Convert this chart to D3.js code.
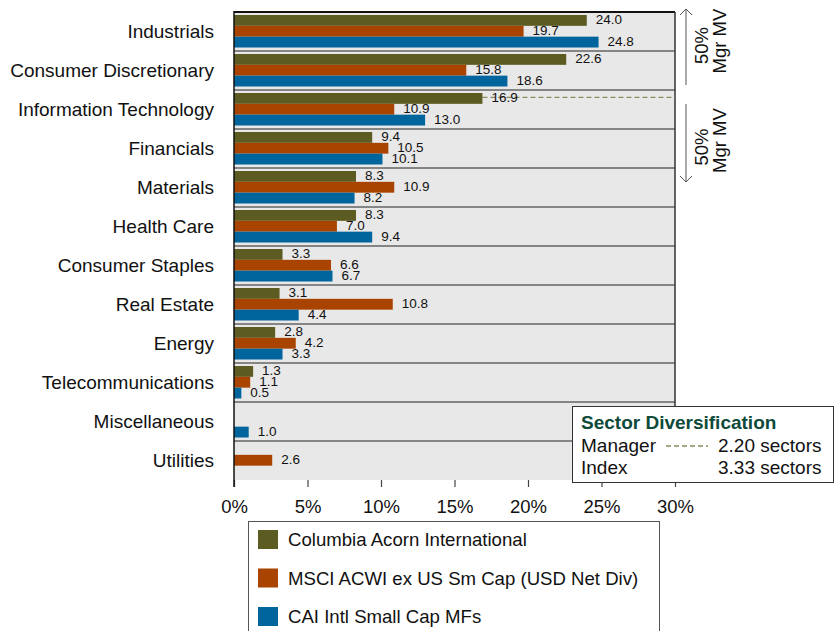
<!DOCTYPE html>
<html><head><meta charset="utf-8">
<script src="https://cdn.jsdelivr.net/npm/d3@7"></script>
<style>body{margin:0;background:#fff;}svg{display:block;font-family:"Liberation Sans",Arial,sans-serif;}</style>
</head><body><svg id="c" width="835" height="631"></svg>
<script>
const categories = ["Industrials","Consumer Discretionary","Information Technology","Financials","Materials","Health Care","Consumer Staples","Real Estate","Energy","Telecommunications","Miscellaneous","Utilities"];
const seriesNames = ["Columbia Acorn International","MSCI ACWI ex US Sm Cap (USD Net Div)","CAI Intl Small Cap MFs"];
const manager = [24.0,22.6,16.9,9.4,8.3,8.3,3.3,3.1,2.8,1.3,null,null];
const index = [19.7,15.8,10.9,10.5,10.9,7.0,6.6,10.8,4.2,1.1,null,2.6];
const peers = [24.8,18.6,13.0,10.1,8.2,9.4,6.7,4.4,3.3,0.5,1.0,null];
const xTicks = [0,5,10,15,20,25,30];
const colors = ["#5c5c22","#a94400","#00659d"];
const managerSectors = "2.20 sectors", indexSectors = "3.33 sectors";
const dashValue = 16.9; // manager cumulative 50% split at IT

const svg = d3.select("#c");
const L=234, R=675, T=12, B=480;
const x = d3.scaleLinear().domain([0,30]).range([L,R]);
const y = d3.scaleBand().domain(categories).range([T,B]);
const inner = d3.scaleBand().domain([0,1,2]).range([3, y.bandwidth()-3.5]).padding(0);

svg.append("rect").attr("x",L).attr("y",T).attr("width",R-L).attr("height",B-T).attr("fill","#e8e8e8");
categories.slice(1).forEach(c=>{
  svg.append("line").attr("x1",L).attr("x2",R).attr("y1",y(c)).attr("y2",y(c)).attr("stroke","#222").attr("stroke-width",1.2);
});
svg.append("line").attr("x1",L).attr("x2",R).attr("y1",T).attr("y2",T).attr("stroke","#111").attr("stroke-width",2);
svg.append("line").attr("x1",R).attr("x2",R).attr("y1",T).attr("y2",B).attr("stroke","#333").attr("stroke-width",1.5);

// dashed line (behind labels)
const itY = y("Information Technology")+inner(0)+inner.bandwidth()/2 - 1;
svg.append("line").attr("x1",x(dashValue)).attr("x2",R).attr("y1",itY).attr("y2",itY).attr("stroke","#8c8c5e").attr("stroke-width",1.3).attr("stroke-dasharray","5,3");

const series=[manager,index,peers];
series.forEach((vals,si)=>{
  const g=svg.append("g");
  categories.forEach((c,i)=>{
    const v=vals[i]; if(v==null) return;
    const y0=y(c)+inner(si);
    g.append("rect").attr("x",x(0)).attr("y",y0).attr("width",x(v)-x(0)).attr("height",inner.bandwidth()).attr("fill",colors[si]);
  });
});
series.forEach((vals,si)=>{
  categories.forEach((c,i)=>{
    const v=vals[i]; if(v==null) return;
    const y0=y(c)+inner(si);
    svg.append("text").attr("x",x(v)+9).attr("y",y0+inner.bandwidth()/2-1).attr("dy","0.35em").attr("font-size",13.5).attr("fill","#111").text(v.toFixed(1));
  });
});

// category labels
categories.forEach(c=>{
  svg.append("text").attr("x",214).attr("y",y(c)+y.bandwidth()/2).attr("dy","0.35em").attr("text-anchor","end").attr("font-size",19).attr("fill","#111").text(c);
});
// x axis
const xa = svg.append("g").attr("transform",`translate(0,${B})`).call(d3.axisBottom(x).tickValues(xTicks).tickFormat(d=>d+"%").tickSize(7).tickPadding(13));
xa.select(".domain").remove();
xa.selectAll("line").attr("stroke","#444").attr("stroke-width",1.2);
xa.selectAll("text").attr("font-size",18.5).attr("fill","#111").attr("font-family","Liberation Sans, Arial, sans-serif");
svg.append("line").attr("x1",L).attr("x2",L).attr("y1",T-1).attr("y2",B+7).attr("stroke","#111").attr("stroke-width",1.5);

// right arrows
function arrow(y1,y2,up){
  svg.append("line").attr("x1",686).attr("x2",686).attr("y1",y1).attr("y2",y2).attr("stroke","#555").attr("stroke-width",1);
  const ty = up?y1:y2, d = up?1:-1;
  svg.append("path").attr("d",`M680,${ty+6*d} L686,${ty} L692,${ty+6*d}`).attr("fill","none").attr("stroke","#555").attr("stroke-width",1);
}
arrow(9,85,true); arrow(104,182,false);
[[45.5,41],[147,140.5]].forEach(([c1,c2])=>{
  svg.append("text").attr("transform",`translate(708,${c1}) rotate(-90)`).attr("text-anchor","middle").attr("font-size",18.5).attr("fill","#111").text("50%");
  svg.append("text").attr("transform",`translate(726,${c2}) rotate(-90)`).attr("text-anchor","middle").attr("font-size",18.5).attr("fill","#111").text("Mgr MV");
});

// sector box
svg.append("rect").attr("x",572.5).attr("y",406.5).attr("width",261).attr("height",76).attr("fill","#fff").attr("stroke","#333").attr("stroke-width",1);
svg.append("text").attr("x",581).attr("y",429).attr("font-size",19).attr("font-weight","bold").attr("fill","#0d4a3a").text("Sector Diversification");
svg.append("text").attr("x",581).attr("y",452).attr("font-size",19).attr("fill","#111").text("Manager");
svg.append("line").attr("x1",666).attr("x2",708).attr("y1",446).attr("y2",446).attr("stroke","#8c8c5e").attr("stroke-width",1.3).attr("stroke-dasharray","5,3");
svg.append("text").attr("x",718).attr("y",452).attr("font-size",19).attr("fill","#111").text(managerSectors);
svg.append("text").attr("x",581).attr("y",474).attr("font-size",19).attr("fill","#111").text("Index");
svg.append("text").attr("x",718).attr("y",474).attr("font-size",19).attr("fill","#111").text(indexSectors);

// legend
svg.append("rect").attr("x",248.5).attr("y",521.5).attr("width",411).attr("height",120).attr("fill","#fff").attr("stroke","#555").attr("stroke-width",1);
seriesNames.forEach((n,i)=>{
  const top=530+i*38.5;
  svg.append("rect").attr("x",258).attr("y",top).attr("width",20).attr("height",19).attr("fill",colors[i]);
  svg.append("text").attr("x",288).attr("y",top+16).attr("font-size",18.6).attr("fill","#111").text(n);
});
</script></body></html>
